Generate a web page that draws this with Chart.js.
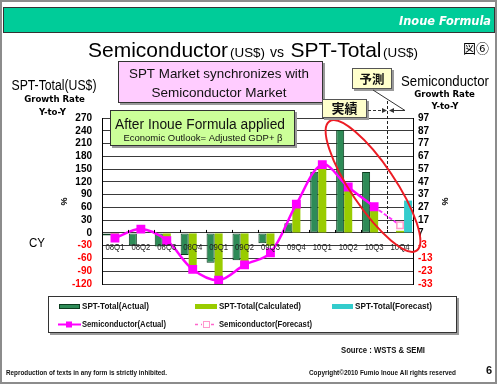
<!DOCTYPE html>
<html>
<head>
<meta charset="utf-8">
<script src="https://cdn.jsdelivr.net/npm/chart.js@4.4.1/dist/chart.umd.min.js"></script>
<style>
  html, body { margin: 0; padding: 0; background: #fff; }
  canvas { display: block; }
</style>
</head>
<body>
<canvas id="c" width="500" height="385"></canvas>
<script>
// data
const quarters = ['08Q1', '08Q2', '08Q3', '08Q4', '09Q1', '09Q2', '09Q3', '09Q4', '10Q1', '10Q2', '10Q3', '10Q4'];
const sptActual     = [-6, -29, -32, -52, -70, -64, -24, 23, 144, 242, 143, null];
const sptCalculated = [-12, 2, -15, -83, -107, -79, -30, 69, 156, 101, 54, 5];
const sptForecast   = [null, null, null, null, null, null, null, null, null, null, null, 76];
const semiActual    = [3, 10, 1, -21.5, -30, -18, -8.5, 29.5, 60.5, 43, 27.5, null];
const semiForecast  = [null, null, null, null, null, null, null, null, null, null, 27.5, 13];
const leftTicks  = [270, 240, 210, 180, 150, 120, 90, 60, 30, 0, -30, -60, -90, -120];
const rightTicks = [97, 87, 77, 67, 57, 47, 37, 27, 17, 7, -3, -13, -23, -33];

const NARROW = "'Liberation Sans Narrow', 'DejaVu Sans Condensed', 'Liberation Sans', sans-serif";
const SANS   = "'Liberation Sans', Arial, sans-serif";
const VERD   = "'DejaVu Sans', sans-serif";
const CJK    = "'Noto Sans CJK JP', sans-serif";

/* ── small drawing helpers ─────────────────────────── */
// w = width the text takes in the picture; squeezes the glyphs when needed
function txt(ctx, s, x, y, font, color, align = 'left', base = 'alphabetic', w) {
  ctx.font = font;
  ctx.fillStyle = color;
  ctx.textAlign = align;
  ctx.textBaseline = base;
  if (w) ctx.fillText(s, x, y, w);
  else ctx.fillText(s, x, y);
}

function shadowBox(ctx, x, y, w, h, fill, stroke) {
  ctx.fillStyle = '#9a9a9a';
  ctx.fillRect(x + 2, y + 2, w, h);
  ctx.fillStyle = fill;
  ctx.fillRect(x, y, w, h);
  ctx.strokeStyle = stroke;
  ctx.lineWidth = 1;
  ctx.strokeRect(x + 0.5, y + 0.5, w - 1, h - 1);
}

function arrowHead(ctx, tipX, tipY, dir) {
  ctx.beginPath();
  ctx.moveTo(tipX, tipY);
  ctx.lineTo(tipX - dir * 5, tipY - 2.5);
  ctx.lineTo(tipX - dir * 5, tipY + 2.5);
  ctx.closePath();
  ctx.fill();
}

/* ── page decoration plugin ────────────────────────── */
const decor = {
  id: 'decor',
  beforeDraw(chart) {
    const ctx = chart.ctx;
    ctx.save();
    ctx.fillStyle = '#fff';
    ctx.fillRect(0, 0, chart.width, chart.height);
    ctx.restore();
  },
  afterDatasetsDraw(chart) {
    const { ctx, scales: { x, y } } = chart;
    const y0 = y.getPixelForValue(0);
    ctx.save();

    // small ticks at category boundaries on the zero line
    ctx.strokeStyle = '#000';
    ctx.lineWidth = 1;
    for (let i = 1; i < quarters.length; i++) {
      const bx = Math.round((x.getPixelForValue(i - 1) + x.getPixelForValue(i)) / 2) + 0.5;
      ctx.beginPath(); ctx.moveTo(bx, y0); ctx.lineTo(bx, y0 - 3); ctx.stroke();
    }

    // category labels sit just under the zero line
    quarters.forEach((q, i) => txt(ctx, q, x.getPixelForValue(i), y0 + 14, `9.5px ${SANS}`, '#222', 'center', 'middle', 19));

    // actual / forecast divider
    const dx = Math.round((x.getPixelForValue(10) + x.getPixelForValue(11)) / 2) + 0.5;
    ctx.setLineDash([3, 2]);
    ctx.strokeStyle = '#222';
    ctx.beginPath(); ctx.moveTo(dx, 101); ctx.lineTo(dx, y0); ctx.stroke();
    ctx.setLineDash([]);

    // red ellipse around the 2010 part
    ctx.strokeStyle = '#ec1c24';
    ctx.lineWidth = 2;
    ctx.beginPath();
    ctx.ellipse(373, 186, 78, 22, 56 * Math.PI / 180, 0, Math.PI * 2);
    ctx.stroke();
    ctx.restore();
  },
  afterDraw(chart) {
    const { ctx, scales: { x } } = chart;
    ctx.save();

    // outer frame
    ctx.strokeStyle = '#8c8c8c';
    ctx.lineWidth = 2;
    ctx.strokeRect(1, 1, 495, 382);

    // header bar
    ctx.fillStyle = '#00cc99';
    ctx.fillRect(3, 7, 492, 26);
    ctx.strokeStyle = '#333';
    ctx.lineWidth = 1;
    ctx.strokeRect(3.5, 7.5, 491, 25);
    txt(ctx, 'Inoue Formula', 491, 25, `italic bold 11.5px ${VERD}`, '#fff', 'right', 'alphabetic', 92);

    // title in pieces
    txt(ctx, 'Semiconductor', 88, 57, `21px ${SANS}`, '#000', 'left', 'alphabetic', 142);
    txt(ctx, '(US$)', 230, 57, `13.5px ${SANS}`, '#000', 'left', 'alphabetic', 35);
    txt(ctx, 'vs', 270, 57, `14px ${SANS}`, '#000', 'left', 'alphabetic', 15);
    txt(ctx, 'SPT-Total', 290.5, 57, `21px ${SANS}`, '#000', 'left', 'alphabetic', 92);
    txt(ctx, '(US$)', 383, 57, `13.5px ${SANS}`, '#000', 'left', 'alphabetic', 35);
    txt(ctx, '図⑥', 463, 53, `13px ${CJK}`, '#000');

    // axis titles
    txt(ctx, 'SPT-Total(US$)', 54, 90, `14px ${SANS}`, '#000', 'center', 'alphabetic', 85);
    txt(ctx, 'Growth Rate', 54.5, 99.5, `bold 8.6px ${VERD}`, '#000', 'center', 'middle', 61);
    txt(ctx, 'Y-to-Y', 52.5, 112.5, `bold 8.6px ${VERD}`, '#000', 'center', 'middle', 35);
    txt(ctx, 'Semiconductor', 445, 86, `15.5px ${SANS}`, '#000', 'center', 'alphabetic', 88);
    txt(ctx, 'Growth Rate', 444.5, 95, `bold 8.6px ${VERD}`, '#000', 'center', 'middle', 61);
    txt(ctx, 'Y-to-Y', 445, 106.5, `bold 8.6px ${VERD}`, '#000', 'center', 'middle', 30);
    txt(ctx, 'CY', 29, 246.5, `13.5px ${SANS}`, '#000', 'left', 'alphabetic', 16);
    [[63.5, 201.5], [444.5, 201.5]].forEach(([px, py]) => {
      ctx.save();
      ctx.translate(px, py);
      ctx.rotate(Math.PI / 2);
      txt(ctx, '%', 0, 0, `bold 9px ${SANS}`, '#000', 'center', 'middle');
      ctx.restore();
    });

    // callout boxes
    shadowBox(ctx, 118, 61, 205, 42, '#ffccff', '#333');
    txt(ctx, 'SPT Market synchronizes with', 219, 78, `13.5px ${SANS}`, '#111', 'center', 'alphabetic', 180);
    txt(ctx, 'Semiconductor Market', 219, 96.5, `13.5px ${SANS}`, '#111', 'center');

    shadowBox(ctx, 110, 110, 185, 36, '#ccff99', '#333');
    txt(ctx, 'After Inoue Formula applied', 200, 128.5, `14px ${SANS}`, '#111', 'center', 'alphabetic', 170);
    txt(ctx, 'Economic Outlook= Adjusted GDP+ β', 203, 141, `9.5px ${SANS}`, '#111', 'center', 'alphabetic', 162);

    shadowBox(ctx, 352, 68, 40, 21, '#ffffcc', '#555');
    txt(ctx, '予測', 372, 79, `bold 12.5px ${CJK}`, '#111', 'center', 'middle');
    shadowBox(ctx, 322, 99, 45, 19, '#ffffcc', '#555');
    txt(ctx, '実績', 344.5, 108.5, `bold 13px ${CJK}`, '#111', 'center', 'middle');

    // arrows between the boxes and the divider
    const dx = Math.round((x.getPixelForValue(10) + x.getPixelForValue(11)) / 2) + 0.5;
    ctx.strokeStyle = '#333';
    ctx.fillStyle = '#333';
    ctx.lineWidth = 1;
    ctx.setLineDash([3, 2]);
    ctx.beginPath(); ctx.moveTo(368, 110.5); ctx.lineTo(dx - 4, 110.5); ctx.stroke();
    ctx.setLineDash([]);
    arrowHead(ctx, dx - 0.5, 110.5, 1);
    ctx.beginPath(); ctx.moveTo(373, 90); ctx.lineTo(405, 110.5); ctx.lineTo(dx + 4, 110.5); ctx.stroke();
    arrowHead(ctx, dx + 1.5, 110.5, -1);

    // legend box
    const ds = chart.data.datasets;
    shadowBox(ctx, 48, 296, 409, 37, '#fff', '#333');
    const lf = `bold 9px ${SANS}`;
    // row 1: bars
    ctx.fillStyle = '#2e8b57'; ctx.fillRect(59, 304, 21, 5);
    ctx.strokeStyle = '#0b3d1f'; ctx.strokeRect(59.5, 304.5, 20, 4);
    ctx.fillStyle = '#99cc00'; ctx.fillRect(195, 304, 22, 5);
    ctx.fillStyle = '#33cccc'; ctx.fillRect(332, 304, 21, 5);
    txt(ctx, ds[0].label, 82, 307, lf, '#111', 'left', 'middle', 67);
    txt(ctx, ds[1].label, 219, 307, lf, '#111', 'left', 'middle', 82);
    txt(ctx, ds[2].label, 355, 307, lf, '#111', 'left', 'middle', 77);
    // row 2: lines
    ctx.strokeStyle = '#ff00ff'; ctx.lineWidth = 2;
    ctx.beginPath(); ctx.moveTo(58, 324.5); ctx.lineTo(81, 324.5); ctx.stroke();
    ctx.fillStyle = '#ff00ff'; ctx.fillRect(66, 321.5, 6, 6);
    txt(ctx, ds[3].label, 82, 324.5, lf, '#111', 'left', 'middle', 84);
    ctx.strokeStyle = '#ff66cc'; ctx.lineWidth = 1.5;
    ctx.setLineDash([3, 3]);
    ctx.beginPath(); ctx.moveTo(195, 324.5); ctx.lineTo(202, 324.5); ctx.moveTo(211, 324.5); ctx.lineTo(217, 324.5); ctx.stroke();
    ctx.setLineDash([]);
    ctx.strokeStyle = '#ff99cc'; ctx.lineWidth = 1;
    ctx.fillStyle = '#fff';
    ctx.fillRect(203, 321, 6, 7); ctx.strokeRect(203.5, 321.5, 6, 6);
    txt(ctx, ds[4].label, 219, 324.5, lf, '#111', 'left', 'middle', 93);

    // footer texts
    txt(ctx, 'Source : WSTS & SEMI', 341, 351, `bold 9px ${SANS}`, '#111', 'left', 'middle', 84);
    txt(ctx, 'Reproduction of texts in any form is strictly inhibited.', 6, 373.5, `bold 7px ${SANS}`, '#111', 'left', 'middle', 161);
    txt(ctx, 'Copyright©2010 Fumio Inoue All rights reserved', 309, 373.5, `bold 7px ${SANS}`, '#111', 'left', 'middle', 147);
    txt(ctx, '6', 486, 370.5, `bold 11px ${SANS}`, '#111', 'left', 'middle');
    ctx.restore();
  }
};

const tickColor = c => (c.tick && c.tick.value < 0 ? '#ff0000' : '#000');

new Chart(document.getElementById('c'), {
  data: {
    labels: quarters,
    datasets: [
      { type: 'bar', label: 'SPT-Total(Actual)', data: sptActual, yAxisID: 'y', order: 2,
        backgroundColor: '#2e8b57', borderColor: '#0b3d1f', borderWidth: 1, borderSkipped: false },
      { type: 'bar', label: 'SPT-Total(Calculated)', data: sptCalculated, yAxisID: 'y', order: 2,
        backgroundColor: '#99cc00', borderWidth: 0 },
      { type: 'bar', label: 'SPT-Total(Forecast)', data: sptForecast, yAxisID: 'y', order: 2,
        backgroundColor: '#33cccc', borderWidth: 0 },
      { type: 'line', label: 'Semiconductor(Actual)', data: semiActual, yAxisID: 'y2', order: 0,
        borderColor: '#ff00ff', borderWidth: 2.5, tension: 0.35,
        pointStyle: 'rect', pointRadius: 4.5, pointBackgroundColor: '#ff00ff', pointBorderColor: '#ff00ff' },
      { type: 'line', label: 'Semiconductor(Forecast)', data: semiForecast, yAxisID: 'y2', order: 1,
        borderColor: '#ff33ff', borderWidth: 2, borderDash: [4, 2], tension: 0,
        pointStyle: 'rect', pointRadius: quarters.map((q, i) => (i === 11 ? 4.5 : 0)),
        pointBackgroundColor: '#fff', pointBorderColor: '#ff99cc', pointBorderWidth: 1.5 },
    ],
  },
  options: {
    responsive: false,
    animation: false,
    devicePixelRatio: 1,
    layout: { padding: { left: 72, right: 57, top: 118, bottom: 101 } },
    plugins: { legend: { display: false }, tooltip: { enabled: false } },
    datasets: { bar: { categoryPercentage: 0.93, barPercentage: 1.0 } },
    scales: {
      x: { display: false, offset: true },
      y: {
        position: 'left', min: -120, max: 270,
        afterBuildTicks: s => { s.ticks = leftTicks.map(v => ({ value: v })); },
        afterFit: s => { s.width = 30; },
        ticks: { autoSkip: false, color: tickColor, padding: 10, font: { family: SANS, size: 10, weight: 'bold' } },
        grid: { color: '#3a3a3a', lineWidth: 1, drawTicks: false },
        border: { display: true, color: '#000', width: 1 },
      },
      y2: {
        position: 'right', min: -33, max: 97,
        afterBuildTicks: s => { s.ticks = rightTicks.map(v => ({ value: v })); },
        afterFit: s => { s.width = 30; },
        ticks: { autoSkip: false, color: tickColor, padding: 5, font: { family: SANS, size: 10, weight: 'bold' } },
        grid: { drawOnChartArea: false, drawTicks: false },
        border: { display: true, color: '#000', width: 1 },
      },
    },
  },
  plugins: [decor],
});
</script>
</body>
</html>
